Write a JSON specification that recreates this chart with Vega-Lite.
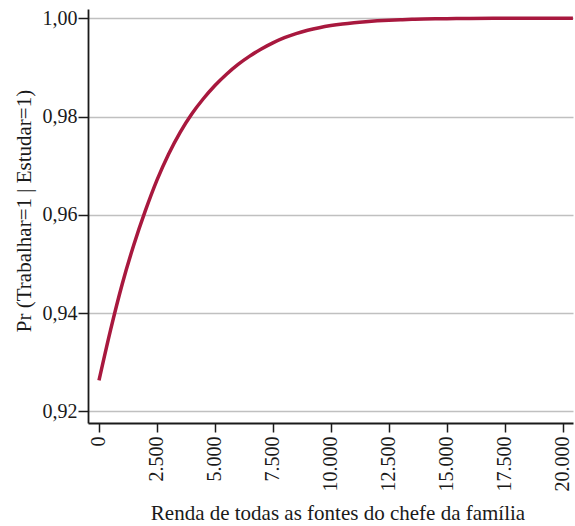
{
  "$schema": "https://vega.github.io/schema/vega-lite/v6.json",
  "width": 485,
  "height": 414,
  "autosize": {"type": "none"},
  "padding": {"left": 88, "top": 9, "right": 2, "bottom": 103},
  "background": "white",
  "data": {
    "values": [
      {"renda": 0, "pr": 0.9263},
      {"renda": 500, "pr": 0.93659},
      {"renda": 1000, "pr": 0.94588},
      {"renda": 1500, "pr": 0.95386},
      {"renda": 2000, "pr": 0.96084},
      {"renda": 2500, "pr": 0.96707},
      {"renda": 3000, "pr": 0.97235},
      {"renda": 3500, "pr": 0.9768},
      {"renda": 4000, "pr": 0.98053},
      {"renda": 4500, "pr": 0.98363},
      {"renda": 5000, "pr": 0.98633},
      {"renda": 5500, "pr": 0.98863},
      {"renda": 6000, "pr": 0.99062},
      {"renda": 6500, "pr": 0.99231},
      {"renda": 7000, "pr": 0.99375},
      {"renda": 7500, "pr": 0.995},
      {"renda": 8000, "pr": 0.99605},
      {"renda": 8500, "pr": 0.9969},
      {"renda": 9000, "pr": 0.99757},
      {"renda": 9500, "pr": 0.9981},
      {"renda": 10000, "pr": 0.99852},
      {"renda": 10500, "pr": 0.99885},
      {"renda": 11000, "pr": 0.99911},
      {"renda": 11500, "pr": 0.99932},
      {"renda": 12000, "pr": 0.99949},
      {"renda": 12500, "pr": 0.99962},
      {"renda": 13000, "pr": 0.99972},
      {"renda": 13500, "pr": 0.9998},
      {"renda": 14000, "pr": 0.99986},
      {"renda": 14500, "pr": 0.99991},
      {"renda": 15000, "pr": 0.99994},
      {"renda": 16000, "pr": 0.99998},
      {"renda": 17000, "pr": 1.0},
      {"renda": 20440, "pr": 1.0}
    ]
  },
  "mark": {"type": "line", "color": "#a8183e", "strokeWidth": 3.5, "interpolate": "monotone", "clip": true},
  "encoding": {
    "x": {
      "field": "renda",
      "type": "quantitative",
      "scale": {"domain": [-474, 20444], "nice": false, "zero": false},
      "axis": {
        "values": [0, 2500, 5000, 7500, 10000, 12500, 15000, 17500, 20000],
        "labelAngle": -90,
        "labelExpr": "replace(format(datum.value, ','), ',', '.')",
        "title": "Renda de todas as fontes do chefe da família",
        "grid": false,
        "tickSize": 9,
        "labelPadding": 4,
        "titlePadding": 11,
        "titleX": 249.5
      }
    },
    "y": {
      "field": "pr",
      "type": "quantitative",
      "scale": {"domain": [0.91762, 1.0019], "nice": false, "zero": false},
      "axis": {
        "values": [0.92, 0.94, 0.96, 0.98, 1.0],
        "labelExpr": "replace(format(datum.value, '.2f'), '.', ',')",
        "title": "Pr (Trabalhar=1 | Estudar=1)",
        "grid": true,
        "gridColor": "#c0c0c0",
        "gridWidth": 1.5,
        "tickSize": 10,
        "labelPadding": 1,
        "titlePadding": 8,
        "titleY": 201.5
      }
    }
  },
  "config": {
    "view": {"stroke": null},
    "axis": {
      "domainColor": "#1a1a1a",
      "domainWidth": 1.8,
      "tickColor": "#1a1a1a",
      "tickWidth": 1.5,
      "labelFont": "Liberation Serif",
      "labelFontSize": 20,
      "labelColor": "#1a1a1a",
      "titleFont": "Liberation Serif",
      "titleFontSize": 21,
      "titleFontWeight": "normal",
      "titleColor": "#1a1a1a"
    }
  }
}
